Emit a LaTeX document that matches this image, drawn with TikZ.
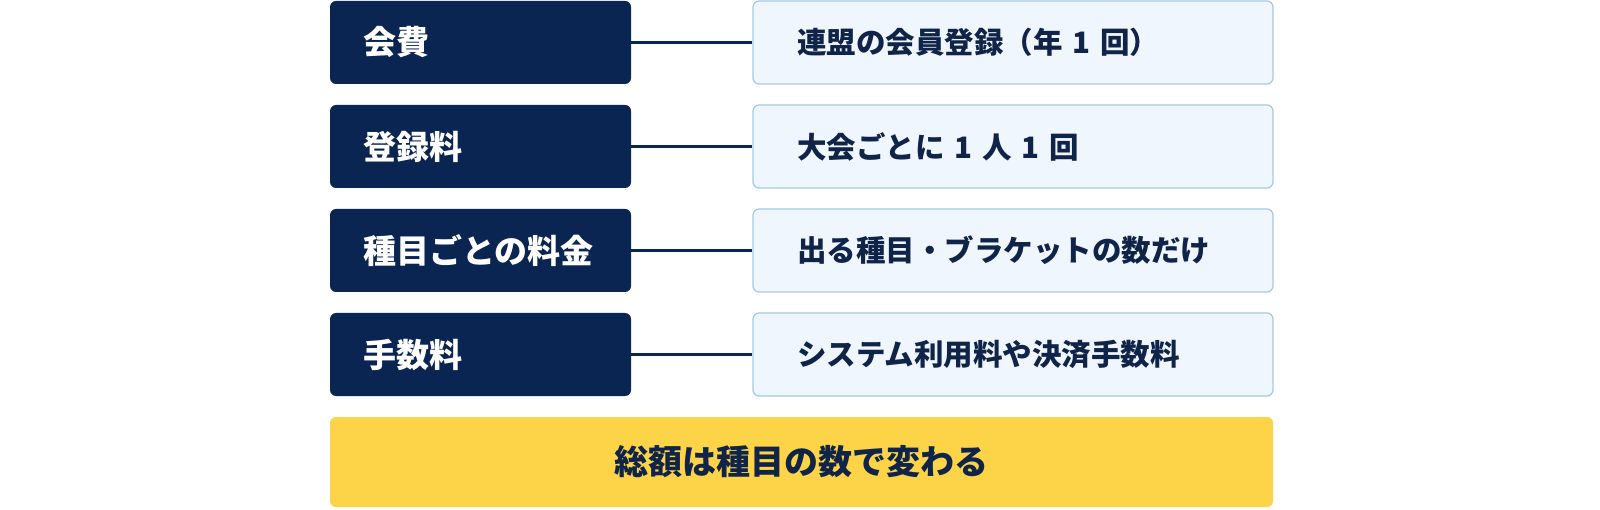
\documentclass[tikz,border=0pt]{standalone}
\usepackage{fontspec}
\newfontfamily\cjk{Noto Sans CJK JP}
\usepackage{tikz}
\usetikzlibrary{shapes.geometric, arrows}
\definecolor{navy}{HTML}{0A2551}
\definecolor{inktext}{HTML}{10244A}
\definecolor{paleblue}{HTML}{F0F6FD}
\definecolor{edgeblue}{HTML}{A8C8E8}
\definecolor{sunyellow}{HTML}{FDD447}
\tikzstyle{feebox} = [rectangle, rounded corners=6pt,
minimum height=83pt,
inner xsep=33pt, inner ysep=0pt,
text width=235pt, align=left,
fill=navy, text=white,
font=\cjk\bfseries\fontsize{33}{38}\selectfont]
\tikzstyle{infobox} = [rectangle, rounded corners=6pt,
minimum height=83pt,
inner xsep=44pt, inner ysep=0pt,
text width=432pt, align=left,
draw=edgeblue, line width=1.3pt, fill=paleblue, text=inktext,
font=\cjk\bfseries\fontsize{29.5}{35}\selectfont]
\tikzstyle{totalbox} = [rectangle, rounded corners=6pt,
minimum width=943pt, minimum height=90pt,
fill=sunyellow, text=inktext,
font=\cjk\bfseries\fontsize{34}{40}\selectfont]
\tikzstyle{link} = [navy, line width=2.4pt]

\begin{document}
\begin{tikzpicture}[x=1pt, y=1pt, node distance=104pt]
        \useasboundingbox (0,0) rectangle (1600,509);
        \node (dues) [feebox] at (480.5,466.5) {会費};
        \node (entry) [feebox, below of=dues] {登録料};
        \node (event) [feebox, below of=entry] {種目ごとの料金};
        \node (service) [feebox, below of=event] {手数料};
        \node (duesinfo) [infobox, right of=dues, xshift=428.5pt] {連盟の会員登録（年 1 回）};
        \node (entryinfo) [infobox, right of=entry, xshift=428.5pt] {大会ごとに 1 人 1 回};
        \node (eventinfo) [infobox, right of=event, xshift=428.5pt] {出る種目・ブラケットの数だけ};
        \node (serviceinfo) [infobox, right of=service, xshift=428.5pt] {システム利用料や決済手数料};
        \node (total) [totalbox] at (801.5,47) {総額は種目の数で変わる};
        \draw [link] (dues) -- (duesinfo);
        \draw [link] (entry) -- (entryinfo);
        \draw [link] (event) -- (eventinfo);
        \draw [link] (service) -- (serviceinfo);
    \end{tikzpicture}
\end{document}
